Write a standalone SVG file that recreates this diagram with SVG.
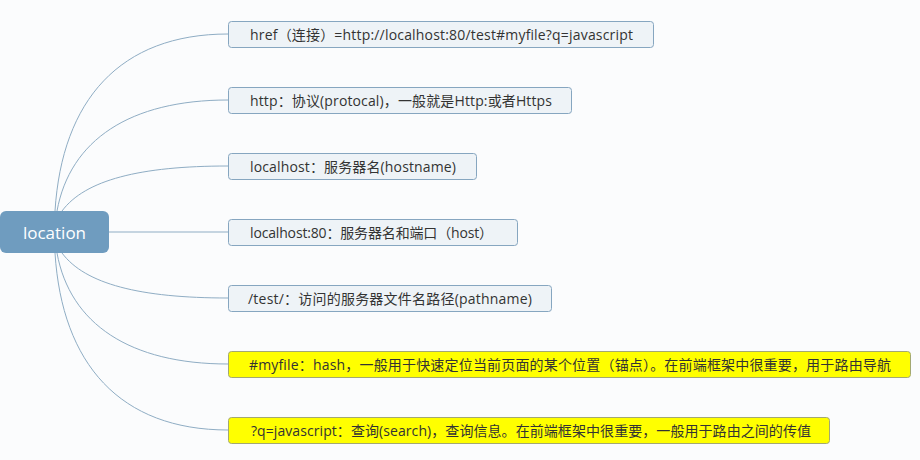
<svg xmlns="http://www.w3.org/2000/svg" width="920" height="460" viewBox="0 0 920 460">
<style>
.bg{fill:#fbfcfd}
.c{fill:none;stroke:#8fadc4;stroke-width:1}
.n{fill:#eef3f7;stroke:#86a6c0;stroke-width:1}
.y{fill:#ffff00;stroke:#a3a872;stroke-width:1}
.t{font-family:"Open Sans","Noto Sans CJK SC",sans-serif;font-size:14px;fill:#333}
.r{fill:#6f9cbf}
.rt{font-family:"Open Sans","Noto Sans CJK SC",sans-serif;font-size:17px;fill:#fff}
</style>
<rect class="bg" x="0" y="0" width="920" height="460"/>
<g id="connectors">
<path class="c" d="M55,211 C62,100 120,34 228,34"/>
<path class="c" d="M57,211 C70,140 130,100 228,100"/>
<path class="c" d="M62,211 C85,180 140,166 228,166"/>
<path class="c" d="M109,232 L228,232"/>
<path class="c" d="M62,253 C85,284 140,298 228,298"/>
<path class="c" d="M57,253 C70,324 130,364 228,364"/>
<path class="c" d="M55,253 C62,364 120,430 228,430"/>
</g>
<g id="root">
<rect class="r" x="0" y="211" width="109" height="42" rx="6"/>
<text class="rt" x="54.5" y="238.5" text-anchor="middle">location</text>
</g>
<g id="n1">
<rect class="n" x="228.5" y="21.5" width="425" height="26" rx="3"/>
<text class="t" x="250" y="39.5" textLength="383" lengthAdjust="spacing">href（连接）=http://localhost:80/test#myfile?q=javascript</text>
</g>
<g id="n2">
<rect class="n" x="228.5" y="87.5" width="343" height="26" rx="3"/>
<text class="t" x="250" y="105.5" textLength="302" lengthAdjust="spacing">http：协议(protocal)，一般就是Http:或者Https</text>
</g>
<g id="n3">
<rect class="n" x="228.5" y="153.5" width="248" height="26" rx="3"/>
<text class="t" x="250" y="171.5" textLength="206" lengthAdjust="spacing">localhost：服务器名(hostname)</text>
</g>
<g id="n4">
<rect class="n" x="228.5" y="219.5" width="289" height="26" rx="3"/>
<text class="t" x="250" y="237.5" textLength="243" lengthAdjust="spacing">localhost:80：服务器名和端口（host）</text>
</g>
<g id="n5">
<rect class="n" x="228.5" y="285.5" width="323" height="26" rx="3"/>
<text class="t" x="248" y="303.5" textLength="284" lengthAdjust="spacing">/test/：访问的服务器文件名路径(pathname)</text>
</g>
<g id="n6">
<rect class="y" x="228.5" y="351.5" width="682" height="26" rx="3"/>
<text class="t" x="249" y="369.5" textLength="642" lengthAdjust="spacing">#myfile：hash，一般用于快速定位当前页面的某个位置（锚点）。在前端框架中很重要，用于路由导航</text>
</g>
<g id="n7">
<rect class="y" x="228.5" y="417.5" width="601" height="26" rx="3"/>
<text class="t" x="251" y="435.5" textLength="560" lengthAdjust="spacing">?q=javascript：查询(search)，查询信息。在前端框架中很重要，一般用于路由之间的传值</text>
</g>
</svg>
